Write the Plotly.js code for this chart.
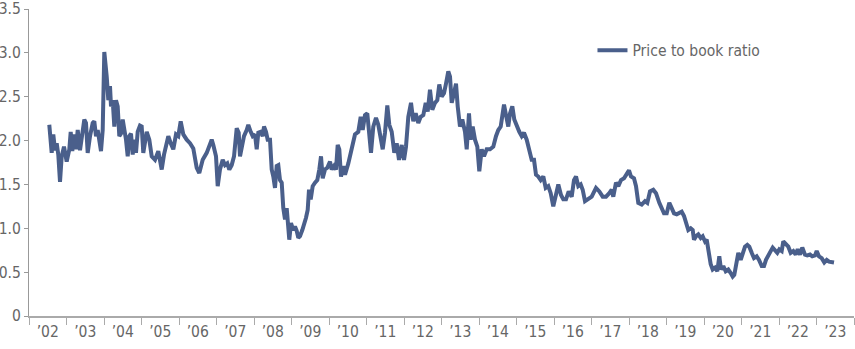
<!DOCTYPE html>
<html>
<head>
<meta charset="utf-8">
<script src="https://cdn.plot.ly/plotly-3.0.1.min.js"></script>
<style>
  html, body { margin: 0; padding: 0; background: #fff; }
  #chart { width: 855px; height: 349px; }
</style>
</head>
<body>
<div id="chart"></div>
<script>
// Decimal-year positions of the observations
const dates = [
  2002.541, 2002.605, 2002.648, 2002.693, 2002.739, 2002.781, 2002.827, 2002.872, 2002.933, 2003.005,
  2003.075, 2003.112, 2003.155, 2003.200, 2003.253, 2003.299, 2003.360, 2003.405, 2003.475, 2003.520,
  2003.565, 2003.627, 2003.699, 2003.741, 2003.787, 2003.832, 2003.875, 2003.920, 2003.965, 2004.008,
  2004.072, 2004.115, 2004.160, 2004.187, 2004.232, 2004.275, 2004.320, 2004.365, 2004.408, 2004.453,
  2004.499, 2004.533, 2004.587, 2004.632, 2004.675, 2004.720, 2004.765, 2004.808, 2004.853, 2004.899,
  2004.960, 2005.005, 2005.048, 2005.139, 2005.208, 2005.272, 2005.360, 2005.448, 2005.539, 2005.600,
  2005.715, 2005.779, 2005.848, 2005.920, 2005.981, 2006.045, 2006.115, 2006.205, 2006.293, 2006.381,
  2006.472, 2006.541, 2006.632, 2006.739, 2006.827, 2006.872, 2006.915, 2006.987, 2007.032, 2007.093,
  2007.165, 2007.227, 2007.288, 2007.341, 2007.405, 2007.467, 2007.539, 2007.592, 2007.627, 2007.699,
  2007.733, 2007.805, 2007.848, 2007.912, 2007.965, 2008.027, 2008.072, 2008.115, 2008.179, 2008.232,
  2008.267, 2008.320, 2008.365, 2008.427, 2008.472, 2008.515, 2008.560, 2008.605, 2008.648, 2008.693,
  2008.739, 2008.781, 2008.827, 2008.872, 2008.915, 2008.941, 2008.987, 2009.048, 2009.093, 2009.139,
  2009.181, 2009.227, 2009.288, 2009.333, 2009.387, 2009.432, 2009.467, 2009.512, 2009.565, 2009.627,
  2009.688, 2009.741, 2009.787, 2009.832, 2009.893, 2009.955, 2010.027, 2010.072, 2010.133, 2010.187,
  2010.232, 2010.275, 2010.320, 2010.381, 2010.427, 2010.515, 2010.605, 2010.693, 2010.781, 2010.845,
  2010.899, 2010.960, 2011.021, 2011.075, 2011.120, 2011.181, 2011.253, 2011.315, 2011.360, 2011.432,
  2011.493, 2011.555, 2011.608, 2011.672, 2011.741, 2011.805, 2011.867, 2011.939, 2012.000, 2012.053,
  2012.115, 2012.187, 2012.248, 2012.312, 2012.381, 2012.445, 2012.515, 2012.579, 2012.632, 2012.693,
  2012.755, 2012.827, 2012.888, 2012.941, 2013.005, 2013.067, 2013.120, 2013.181, 2013.227, 2013.272,
  2013.333, 2013.387, 2013.432, 2013.493, 2013.555, 2013.627, 2013.672, 2013.733, 2013.779, 2013.832,
  2013.893, 2013.955, 2014.008, 2014.072, 2014.133, 2014.205, 2014.293, 2014.381, 2014.453, 2014.515,
  2014.579, 2014.632, 2014.667, 2014.720, 2014.781, 2014.827, 2014.888, 2014.941, 2015.005, 2015.075,
  2015.139, 2015.200, 2015.272, 2015.341, 2015.405, 2015.467, 2015.520, 2015.581, 2015.645, 2015.715,
  2015.779, 2015.848, 2015.912, 2015.981, 2016.053, 2016.115, 2016.187, 2016.248, 2016.320, 2016.392,
  2016.472, 2016.533, 2016.587, 2016.648, 2016.712, 2016.765, 2016.827, 2016.915, 2017.005, 2017.120,
  2017.208, 2017.299, 2017.387, 2017.475, 2017.539, 2017.581, 2017.653, 2017.715, 2017.787, 2017.867,
  2017.939, 2018.000, 2018.053, 2018.133, 2018.187, 2018.248, 2018.339, 2018.427, 2018.488, 2018.560,
  2018.648, 2018.720, 2018.808, 2018.872, 2018.933, 2019.005, 2019.075, 2019.139, 2019.200, 2019.272,
  2019.341, 2019.405, 2019.467, 2019.520, 2019.581, 2019.645, 2019.699, 2019.733, 2019.787, 2019.848,
  2019.912, 2019.965, 2020.027, 2020.072, 2020.133, 2020.179, 2020.232, 2020.293, 2020.355, 2020.408,
  2020.453, 2020.515, 2020.579, 2020.648, 2020.712, 2020.765, 2020.808, 2020.872, 2020.915, 2020.979,
  2021.032, 2021.093, 2021.155, 2021.208, 2021.272, 2021.333, 2021.405, 2021.467, 2021.539, 2021.600,
  2021.653, 2021.715, 2021.779, 2021.832, 2021.893, 2021.955, 2022.008, 2022.072, 2022.115, 2022.187,
  2022.248, 2022.312, 2022.381, 2022.445, 2022.499, 2022.560, 2022.621, 2022.693, 2022.755, 2022.827,
  2022.888, 2022.960, 2023.005, 2023.067, 2023.139, 2023.208, 2023.272, 2023.333, 2023.405, 2023.467
];

// Price to book ratio values
const pbRatio = [
  2.18, 1.86, 2.07, 1.89, 1.97, 1.84, 1.53, 1.82, 1.93, 1.76,
  1.90, 2.10, 1.88, 2.07, 1.90, 2.12, 1.89, 2.05, 2.24, 2.20,
  1.86, 2.05, 2.20, 2.22, 2.05, 2.12, 2.03, 1.88, 2.12, 3.01,
  2.73, 2.46, 2.62, 2.39, 2.46, 2.16, 2.46, 2.39, 2.05, 2.08,
  2.24, 2.16, 2.01, 1.82, 2.05, 2.08, 1.84, 2.01, 1.86, 2.10,
  2.17, 2.16, 1.86, 2.10, 2.01, 1.82, 1.78, 1.88, 1.67, 1.84,
  2.05, 1.97, 1.90, 2.07, 2.05, 2.22, 2.07, 2.01, 1.97, 1.91,
  1.69, 1.63, 1.78, 1.86, 1.97, 2.01, 1.95, 1.82, 1.48, 1.67,
  1.78, 1.72, 1.74, 1.67, 1.72, 1.82, 2.14, 2.09, 1.82, 2.01,
  2.05, 2.12, 2.18, 2.10, 2.05, 2.07, 1.90, 2.09, 2.10, 2.05,
  2.16, 2.10, 2.01, 2.01, 1.67, 1.59, 1.46, 1.71, 1.72, 1.55,
  1.52, 1.23, 1.10, 1.23, 1.02, 0.87, 1.06, 0.98, 1.02, 0.97,
  0.89, 0.91, 0.98, 1.04, 1.12, 1.21, 1.44, 1.33, 1.48, 1.52,
  1.55, 1.67, 1.82, 1.57, 1.67, 1.69, 1.76, 1.67, 1.71, 1.67,
  1.95, 1.90, 1.59, 1.71, 1.61, 1.74, 1.93, 2.07, 2.10, 2.27,
  2.12, 2.29, 2.31, 2.09, 1.86, 2.16, 2.26, 2.18, 2.09, 1.90,
  2.09, 2.40, 2.18, 2.10, 1.86, 1.97, 1.78, 1.95, 1.78, 1.93,
  2.27, 2.43, 2.22, 2.31, 2.20, 2.27, 2.29, 2.43, 2.33, 2.58,
  2.35, 2.43, 2.46, 2.64, 2.50, 2.54, 2.65, 2.79, 2.73, 2.43,
  2.54, 2.65, 2.39, 2.16, 2.24, 2.10, 1.90, 2.31, 2.01, 2.16,
  2.01, 1.93, 1.65, 1.90, 1.82, 1.90, 1.90, 1.93, 2.05, 2.12,
  2.16, 2.31, 2.41, 2.29, 2.16, 2.31, 2.39, 2.24, 2.16, 2.10,
  2.05, 2.09, 2.01, 1.86, 1.78, 1.78, 1.61, 1.59, 1.55, 1.59,
  1.46, 1.48, 1.40, 1.25, 1.40, 1.50, 1.38, 1.33, 1.33, 1.42,
  1.36, 1.55, 1.59, 1.48, 1.50, 1.44, 1.31, 1.33, 1.36, 1.46,
  1.42, 1.36, 1.36, 1.40, 1.44, 1.36, 1.52, 1.48, 1.55, 1.57,
  1.61, 1.66, 1.59, 1.57, 1.48, 1.29, 1.27, 1.31, 1.29, 1.42,
  1.44, 1.40, 1.29, 1.23, 1.17, 1.17, 1.29, 1.23, 1.17, 1.16,
  1.17, 1.19, 1.14, 1.08, 0.98, 1.00, 0.98, 0.87, 0.91, 0.93,
  0.89, 0.91, 0.85, 0.87, 0.72, 0.59, 0.53, 0.55, 0.51, 0.68,
  0.53, 0.57, 0.51, 0.53, 0.49, 0.45, 0.47, 0.64, 0.72, 0.64,
  0.72, 0.79, 0.81, 0.79, 0.72, 0.66, 0.68, 0.64, 0.57, 0.57,
  0.64, 0.70, 0.74, 0.78, 0.74, 0.72, 0.76, 0.74, 0.85, 0.81,
  0.79, 0.72, 0.74, 0.70, 0.76, 0.70, 0.78, 0.70, 0.69, 0.70,
  0.68, 0.69, 0.74, 0.68, 0.66, 0.61, 0.64, 0.62, 0.62, 0.61
];

// Axis ticks: year boundaries get tick marks, labels sit mid-year
const yearBounds = [2002,2003,2004,2005,2006,2007,2008,2009,2010,2011,2012,2013,2014,2015,2016,2017,2018,2019,2020,2021,2022,2023,2024];
const yearLabelPos = [2002.5,2003.5,2004.5,2005.5,2006.5,2007.5,2008.5,2009.5,2010.5,2011.5,2012.5,2013.5,2014.5,2015.5,2016.5,2017.5,2018.5,2019.5,2020.5,2021.5,2022.5,2023.5];
const yearLabels = ['\u201902','\u201903','\u201904','\u201905','\u201906','\u201907','\u201908','\u201909','\u201910','\u201911','\u201912','\u201913','\u201914','\u201915','\u201916','\u201917','\u201918','\u201919','\u201920','\u201921','\u201922','\u201923'];
const yTicks = [0, 0.5, 1.0, 1.5, 2.0, 2.5, 3.0, 3.5];
const yLabels = ['0', '0.5', '1.0', '1.5', '2.0', '2.5', '3.0', '3.5'];
const seriesName = 'Price to book ratio';

const FONT = '"DejaVu Sans Condensed", "Liberation Sans Narrow", "Roboto Condensed", sans-serif';
const FSIZE = 15.5;

const trace = {
  type: 'scatter',
  mode: 'lines',
  x: dates,
  y: pbRatio,
  name: seriesName,
  line: { color: '#4a5f8b', width: 4 },
  hoverinfo: 'x+y'
};

const layout = {
  width: 855,
  height: 349,
  margin: { l: 29, r: 1, t: 9, b: 33 },
  paper_bgcolor: '#ffffff',
  plot_bgcolor: '#ffffff',
  font: { family: FONT, size: FSIZE, color: '#666666' },
  showlegend: true,
  legend: {
    x: 0.683, y: 0.92, xanchor: 'left', yanchor: 'top',
    bgcolor: 'rgba(0,0,0,0)',
    font: { family: FONT, size: FSIZE, color: '#666666' }
  },
  xaxis: {
    type: 'linear',
    range: [2002, 2024],
    tickmode: 'array',
    tickvals: yearLabelPos,
    ticktext: yearLabels,
    ticks: '',
    minor: {
      tickmode: 'array',
      tickvals: yearBounds,
      ticks: 'outside',
      ticklen: 7,
      tickwidth: 1,
      tickcolor: '#aaaaaa',
      showgrid: false
    },
    showline: true,
    linecolor: '#aaaaaa',
    linewidth: 2,
    showgrid: false,
    zeroline: false,
    fixedrange: true,
    tickfont: { family: FONT, size: FSIZE, color: '#666666' }
  },
  yaxis: {
    range: [0, 3.5],
    tickmode: 'array',
    tickvals: yTicks,
    ticktext: yLabels,
    ticks: 'outside',
    ticklen: 4,
    tickwidth: 1,
    tickcolor: '#999999',
    showline: true,
    linecolor: '#999999',
    linewidth: 1,
    showgrid: false,
    zeroline: false,
    fixedrange: true,
    tickfont: { family: FONT, size: FSIZE, color: '#666666' }
  }
};

Plotly.newPlot('chart', [trace], layout, { displayModeBar: false, staticPlot: true });
</script>
</body>
</html>
